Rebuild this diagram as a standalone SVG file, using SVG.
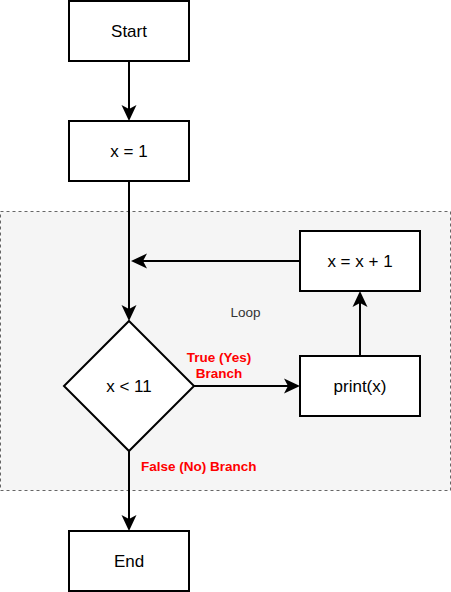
<svg xmlns="http://www.w3.org/2000/svg" width="451" height="592" viewBox="0 0 451 592">
<style>
.box{fill:#fff;stroke:#000;stroke-width:2}
.lbl{font-family:"Liberation Sans",Arial,sans-serif;font-size:17px;fill:#000;text-anchor:middle}
.red{font-family:"Liberation Sans",Arial,sans-serif;font-size:13.5px;font-weight:bold;fill:#ff0000}
.edge{fill:none;stroke:#000;stroke-width:2}
</style>
<defs>
<marker id="arr" viewBox="-13 -8 18 16" refX="0" refY="0" markerWidth="18" markerHeight="16" markerUnits="userSpaceOnUse" orient="auto">
<path d="M4,0 L-12,-7.5 L-8,0 L-12,7.5 Z" fill="#000"/>
</marker>
</defs>
<g id="loop">
<rect x="0.5" y="211.5" width="450" height="279" fill="#f5f5f5" stroke="#666" stroke-width="1" stroke-dasharray="3 3"/>
<text x="245.5" y="317" font-family="'Liberation Sans',Arial,sans-serif" font-size="13.5" fill="#333" text-anchor="middle">Loop</text>
</g>
<g id="edges">
<path class="edge" d="M129,61 L129,117" marker-end="url(#arr)"/>
<path class="edge" d="M129,181 L129,317" marker-end="url(#arr)"/>
<path class="edge" d="M300,261 L135,261" marker-end="url(#arr)"/>
<path class="edge" d="M194,386 L296,386" marker-end="url(#arr)"/>
<path class="edge" d="M360,356 L360,295" marker-end="url(#arr)"/>
<path class="edge" d="M129,451 L129,527" marker-end="url(#arr)"/>
<text class="red" x="219" y="362" text-anchor="middle">True (Yes)</text>
<text class="red" x="219" y="378" text-anchor="middle">Branch</text>
<text class="red" x="141" y="471">False (No) Branch</text>
</g>
<g id="start">
<rect class="box" x="69" y="1" width="120" height="60"/>
<text class="lbl" x="129" y="37">Start</text>
</g>
<g id="init">
<rect class="box" x="69" y="121" width="120" height="60"/>
<text class="lbl" x="129" y="157">x = 1</text>
</g>
<g id="cond">
<path class="box" d="M129,321 L194,386 L129,451 L64,386 Z"/>
<text class="lbl" x="129" y="392">x &lt; 11</text>
</g>
<g id="print">
<rect class="box" x="300" y="356" width="120" height="60"/>
<text class="lbl" x="360" y="392">print(x)</text>
</g>
<g id="incr">
<rect class="box" x="300" y="231" width="120" height="60"/>
<text class="lbl" x="360" y="267">x = x + 1</text>
</g>
<g id="end">
<rect class="box" x="69" y="531" width="120" height="60"/>
<text class="lbl" x="129" y="567">End</text>
</g>
</svg>
